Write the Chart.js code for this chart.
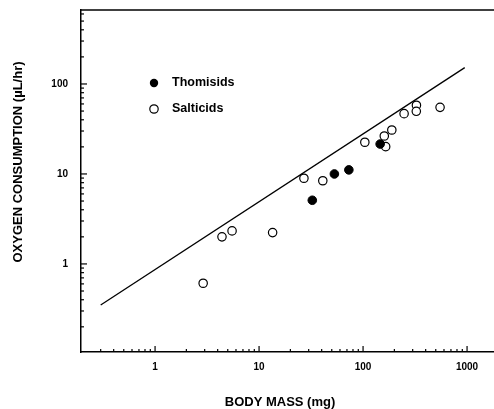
<!DOCTYPE html>
<html>
<head>
<meta charset="utf-8">
<title>Oxygen consumption vs body mass</title>
<script src="https://cdn.jsdelivr.net/npm/chart.js@4.4.0/dist/chart.umd.min.js"></script>
<style>
  html, body { margin: 0; padding: 0; background: #fff; overflow: hidden; }
  canvas { display: block; }
</style>
</head>
<body>
<!-- slightly wider than the window: the original figure is cropped at its right edge -->
<canvas id="chart" width="500" height="409"></canvas>
<script>
// Body mass (mg) and oxygen consumption (uL/hr)
const thomisidMass = [32.5, 53, 73, 146];
const thomisidO2 = [5.1, 10, 11.1, 21.5];

const salticidMass = [2.9, 4.4, 5.5, 13.5, 27, 41, 104, 160, 165, 189, 248, 326, 325, 550];
const salticidO2 = [0.61, 2.0, 2.33, 2.23, 8.96, 8.4, 22.5, 26.4, 20.1, 30.8, 46.8, 58, 49.7, 55];

// regression line end points
const fitMass = [0.3, 950];
const fitO2 = [0.35, 152];

const xTickLabels = [1, 10, 100, 1000];
const yTickLabels = [1, 10, 100];

const FONT = "'Liberation Sans', Arial, Helvetica, sans-serif";

function toPoints(xs, ys) {
    return xs.map((x, i) => ({ x: x, y: ys[i] }));
}

function isNice(v) {
    const p = Math.pow(10, Math.floor(Math.log10(v) + 1e-9));
    const s = v / p;
    return Math.abs(s - Math.round(s)) < 1e-6;
}

function isDecade(v) {
    const l = Math.log10(v);
    return Math.abs(l - Math.round(l)) < 1e-9;
}

// inward tick marks, top frame line, axis titles and the legend
const decorations = {
    id: 'decorations',
    afterDraw(chart) {
        const { ctx, chartArea } = chart;
        const xs = chart.scales.x;
        const ys = chart.scales.y;
        ctx.save();
        ctx.strokeStyle = '#000';
        ctx.lineWidth = 1.2;

        xs.ticks.forEach(t => {
            if (!isNice(t.value)) return;
            const px = xs.getPixelForValue(t.value);
            const len = isDecade(t.value) ? 6 : 3;
            ctx.beginPath();
            ctx.moveTo(px, chartArea.bottom);
            ctx.lineTo(px, chartArea.bottom - len);
            ctx.stroke();
        });
        ys.ticks.forEach(t => {
            if (!isNice(t.value)) return;
            const py = ys.getPixelForValue(t.value);
            const len = isDecade(t.value) ? 6 : 3;
            ctx.beginPath();
            ctx.moveTo(chartArea.left, py);
            ctx.lineTo(chartArea.left + len, py);
            ctx.stroke();
        });

        // top frame
        ctx.lineWidth = 1.5;
        ctx.beginPath();
        ctx.moveTo(chartArea.left, chartArea.top);
        ctx.lineTo(chartArea.right, chartArea.top);
        ctx.stroke();

        // axis titles
        ctx.fillStyle = '#000';
        ctx.font = 'bold 13px ' + FONT;
        ctx.textAlign = 'center';
        ctx.textBaseline = 'middle';
        ctx.fillText('BODY MASS (mg)', 280, 402);

        ctx.save();
        ctx.translate(18, 162);
        ctx.rotate(-Math.PI / 2);
        ctx.fillText('OXYGEN CONSUMPTION (\u00b5L/hr)', 0, 0);
        ctx.restore();

        // legend
        const lx = chartArea.left + 73;
        ctx.lineWidth = 1.2;
        ctx.beginPath();
        ctx.arc(lx, 83, 4.2, 0, Math.PI * 2);
        ctx.fill();
        ctx.beginPath();
        ctx.arc(lx, 109, 4.2, 0, Math.PI * 2);
        ctx.fillStyle = '#fff';
        ctx.fill();
        ctx.stroke();
        ctx.fillStyle = '#000';
        ctx.textAlign = 'left';
        ctx.font = 'bold 12.5px ' + FONT;
        ctx.fillText('Thomisids', lx + 18, 83);
        ctx.fillText('Salticids', lx + 18, 109);
        ctx.restore();
    }
};

const tickFont = { family: FONT, size: 10, weight: 'bold' };

new Chart(document.getElementById('chart'), {
    type: 'scatter',
    data: {
        datasets: [
            {
                label: 'Fit',
                data: toPoints(fitMass, fitO2),
                showLine: true,
                borderColor: '#000',
                borderWidth: 1.3,
                pointRadius: 0
            },
            {
                label: 'Thomisids',
                data: toPoints(thomisidMass, thomisidO2),
                backgroundColor: '#000',
                borderColor: '#000',
                borderWidth: 1,
                pointRadius: 4.3
            },
            {
                label: 'Salticids',
                data: toPoints(salticidMass, salticidO2),
                backgroundColor: '#fff',
                borderColor: '#000',
                borderWidth: 1.2,
                pointRadius: 4.2
            }
        ]
    },
    options: {
        responsive: false,
        animation: false,
        layout: { padding: { top: 10, right: 0, left: 0, bottom: 0 } },
        scales: {
            x: {
                type: 'logarithmic',
                min: 0.194,
                max: 1840,
                // tick length only offsets the labels; marks are drawn inward by the plugin
                grid: { display: false, drawTicks: true, tickLength: 9 },
                border: { display: true, color: '#000', width: 1.5 },
                ticks: {
                    autoSkip: false,
                    maxRotation: 0,
                    padding: 0,
                    color: '#000',
                    font: tickFont,
                    callback: v => xTickLabels.includes(v) ? String(v) : ''
                },
                afterFit: s => {
                    s.height = 57;
                    s.paddingLeft = 0;
                    s.paddingRight = 0;
                }
            },
            y: {
                type: 'logarithmic',
                min: 0.105,
                max: 664,
                grid: { display: false, drawTicks: false },
                border: { display: true, color: '#000', width: 1.5 },
                ticks: {
                    autoSkip: false,
                    padding: 13,
                    color: '#000',
                    font: tickFont,
                    callback: v => yTickLabels.includes(v) ? String(v) : ''
                },
                afterFit: s => {
                    s.width = 81;
                    s.paddingTop = 0;
                    s.paddingBottom = 0;
                }
            }
        },
        plugins: {
            legend: { display: false },
            tooltip: { enabled: false }
        }
    },
    plugins: [decorations]
});
</script>
</body>
</html>
